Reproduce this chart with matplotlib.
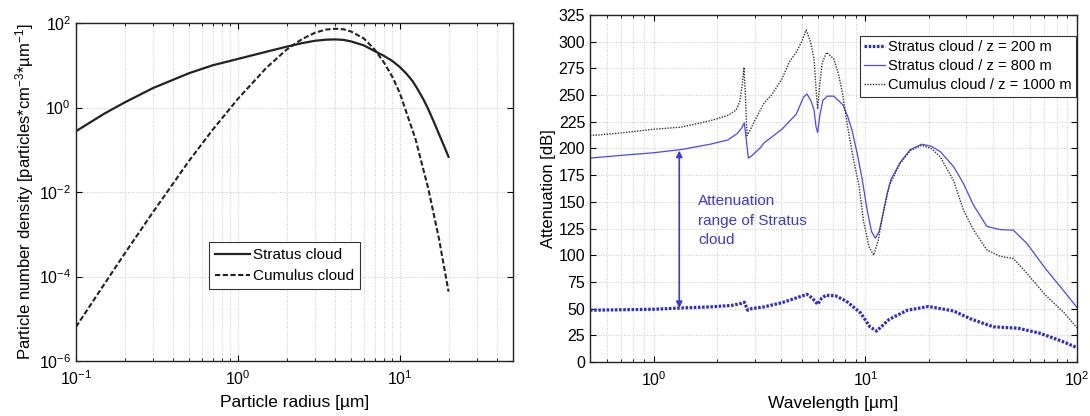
import numpy as np
import matplotlib
matplotlib.use("Agg")
import matplotlib.pyplot as plt
from matplotlib.ticker import LogLocator, NullLocator, NullFormatter, MultipleLocator

plt.rcParams['font.family'] = ['Liberation Sans', 'DejaVu Sans']
plt.rcParams['mathtext.fontset'] = 'custom'
plt.rcParams['mathtext.rm'] = 'Liberation Sans'
plt.rcParams['mathtext.it'] = 'Liberation Sans'

# ---- left panel: particle size distributions
r_stratus = [0.1, 0.15, 0.2, 0.3, 0.5, 0.7, 1.0, 1.5, 2.0, 2.5, 3.0, 3.5, 4.0, 4.5, 5.0, 6.0,
             7.0, 8.0, 9.0, 10.0, 11.0, 12.0, 13.0, 14.0, 15.0, 16.0, 17.0, 18.0, 19.0, 20.0]
n_stratus = [0.275, 0.72, 1.32, 2.9, 6.5, 10.0, 14.1, 20.9, 27.5, 33.5, 38.0, 40.3, 40.9, 39.8,
             36.7, 29.5, 21.6, 16.6, 12.6, 9.1, 6.3, 4.2, 2.57, 1.55, 0.91, 0.52, 0.30, 0.178,
             0.11, 0.068]

r_cumulus = [0.1, 0.15, 0.2, 0.3, 0.5, 0.7, 1.0, 1.5, 2.0, 2.5, 3.0, 3.5, 4.0, 4.5, 5.0,
             6.0, 7.0, 8.0, 9.0, 10.0, 12.5, 15.0, 17.5, 20.0]
n_cumulus = [6.4e-6, 6.7e-5, 3.5e-4, 3.4e-3, 0.055, 0.3, 1.6, 8.7, 23.5, 42.0, 59.0, 70.0, 73.0,
             71.0, 63.0, 43.0, 23.5, 11.5, 5.3, 2.2, 0.18, 0.012, 7.5e-4, 4.4e-5]

# ---- right panel: attenuation vs wavelength
lam_s200 = [0.5, 1.0, 1.35, 1.85, 2.33, 2.6, 2.68, 2.78, 2.9, 3.31, 4.03, 5.3, 5.6, 5.95,
            6.2, 6.5, 7.23, 8.13, 9.49, 10.5, 11.3, 12.97, 15.8, 19.9, 26.1, 31.8, 40.2,
            52.8, 66.7, 84.3, 100.0]
att_s200 = [48.5, 49.4, 50.6, 51.6, 53.0, 55.0, 56.0, 48.5, 50.0, 51.6, 55.5, 63.4, 60.0, 54.0,
            59.5, 62.5, 62.0, 57.0, 46.0, 33.0, 29.0, 40.0, 48.5, 52.0, 47.8, 40.0, 33.0,
            31.6, 27.0, 19.7, 13.4]

lam_s800 = [0.5, 0.7, 1.0, 1.35, 1.85, 2.24, 2.48, 2.6, 2.68, 2.73, 2.8, 2.9, 3.2, 3.31, 4.03,
            4.71, 5.1, 5.3, 5.55, 5.72, 5.85, 5.95, 6.1, 6.3, 6.6, 7.09, 7.82, 8.25, 8.65, 9.2,
            9.68, 10.2, 10.7, 11.15, 11.6, 12.1, 12.65, 13.2, 14.6, 16.3, 18.5, 20.5, 22.6,
            26.1, 29.1, 32.4, 37.5, 43.3, 50.0, 58.0, 70.6, 87.0, 100.0]
att_s800 = [191, 193.5, 196, 199, 204, 208, 214, 219, 224, 210, 191, 193, 201, 205, 218,
            232, 248, 251, 244, 236, 220, 215, 232, 245, 249, 249, 241, 230, 217, 193,
            170, 142, 122, 116, 122, 138, 157, 171, 187, 199, 204, 202, 197,
            183, 167, 147, 127, 124, 123.5, 111, 88, 66, 51]

lam_c1000 = [0.5, 0.7, 1.0, 1.35, 1.85, 2.24, 2.45, 2.55, 2.62, 2.67, 2.71, 2.76, 2.85, 3.0,
             3.31, 3.6, 4.03, 4.4, 4.71, 5.0, 5.25, 5.5, 5.72, 5.85, 5.95, 6.1, 6.25, 6.56,
             7.09, 7.5, 7.82, 8.25, 8.78, 9.31, 9.8, 10.4, 10.95, 11.5, 12.2, 12.97, 14.6,
             16.3, 18.5, 20.5, 22.6, 26.1, 29.1, 32.4, 37.5, 43.3, 50.0, 58.0, 70.6, 87.0, 100.0]
att_c1000 = [212, 214.5, 218, 220, 226, 231, 236, 244, 260, 276, 250, 212, 217, 226,
             242, 250, 265, 282, 290, 300, 311, 300, 284, 255, 237, 262, 280, 290,
             284, 268, 250, 220, 190, 166, 132, 108, 100, 114, 142, 165, 186,
             198, 203, 200, 192, 170, 142, 124, 105, 99, 97, 83, 63, 46, 32]

range_lam = 1.32
range_lo, range_hi = 50.6, 198.0

fig = plt.figure(figsize=(10.9, 4.16), dpi=100)
ax1 = fig.add_axes([0.0697, 0.1322, 0.4009, 0.8125])
ax2 = fig.add_axes([0.5413, 0.1298, 0.4468, 0.8341])

grid_kw = dict(color='#c8c8c8', linestyle=':', linewidth=0.7)

# left
ax1.loglog(r_stratus, n_stratus, color='#222222', lw=1.6, label='Stratus cloud')
ax1.loglog(r_cumulus, n_cumulus, color='#222222', lw=1.5, ls=(0, (2.5, 1.2)), label='Cumulus cloud')
ax1.set_xlim(0.1, 50)
ax1.set_ylim(1e-6, 1e2)
ax1.yaxis.set_major_locator(LogLocator(base=100))
ax1.yaxis.set_minor_locator(NullLocator())
ax1.xaxis.set_minor_locator(LogLocator(base=10, subs=np.arange(2, 10)))
ax1.xaxis.set_minor_formatter(NullFormatter())
ax1.grid(True, which='both', axis='x', **grid_kw)
ax1.grid(True, which='major', axis='y', **grid_kw)
ax1.set_xlabel('Particle radius [µm]', fontsize=12.5, labelpad=5)
ax1.set_ylabel('Particle number density [particles*cm$^{-3}$*µm$^{-1}$]', fontsize=12, labelpad=2)
leg1 = ax1.legend(loc='lower left', bbox_to_anchor=(0.304, 0.213), fontsize=11, fancybox=False,
                  framealpha=1, edgecolor='#333333', handlelength=2.3, handletextpad=0.2,
                  borderpad=0.4, labelspacing=0.45, borderaxespad=0)
leg1.get_frame().set_linewidth(0.8)

# right
ax2.semilogx(lam_s200, att_s200, color='#2b2bd6', lw=2.3, ls=(0, (0.8, 0.5)),
             label='Stratus cloud / z = 200 m')
ax2.semilogx(lam_s800, att_s800, color='#4646ff', lw=0.9, label='Stratus cloud / z = 800 m')
ax2.semilogx(lam_c1000, att_c1000, color='#333333', lw=1.0, ls=(0, (1, 1)),
             label='Cumulus cloud / z = 1000 m')
ax2.set_xlim(0.5, 100)
ax2.set_ylim(0, 325)
ax2.yaxis.set_major_locator(MultipleLocator(25))
ax2.xaxis.set_minor_locator(LogLocator(base=10, subs=np.arange(2, 10)))
ax2.xaxis.set_minor_formatter(NullFormatter())
ax2.grid(True, which='both', axis='x', **grid_kw)
ax2.grid(True, which='major', axis='y', **grid_kw)
ax2.set_xlabel('Wavelength [µm]', fontsize=12.5, labelpad=5)
ax2.set_ylabel('Attenuation [dB]', fontsize=12, labelpad=2)

ax2.annotate('', xy=(range_lam, range_lo), xytext=(range_lam, range_hi),
             arrowprops=dict(arrowstyle='<|-|>', color='#3a3ad8', lw=1.2,
                             mutation_scale=9, shrinkA=0, shrinkB=0))
ax2.text(1.62, 157, 'Attenuation\nrange of Stratus\ncloud', color='#3a3ad8', fontsize=11,
         ha='left', va='top', linespacing=1.5)

leg2 = ax2.legend(loc='upper right', bbox_to_anchor=(0.997, 0.94), fontsize=10.5, fancybox=False,
                  framealpha=1, edgecolor='#333333', handlelength=1.4, handletextpad=0.2,
                  borderpad=0.3, labelspacing=0.35, borderaxespad=0)
leg2.get_frame().set_linewidth(0.8)

for ax in (ax1, ax2):
    ax.tick_params(which='both', direction='in', top=True, right=True, labelsize=11.5)
    ax.tick_params(which='major', length=4)
    ax.tick_params(which='minor', length=2)
    ax.tick_params(axis='x', pad=6)
    for s in ax.spines.values():
        s.set_linewidth(1.0)
        s.set_color('#222222')

fig.savefig('out.png', dpi=100)
